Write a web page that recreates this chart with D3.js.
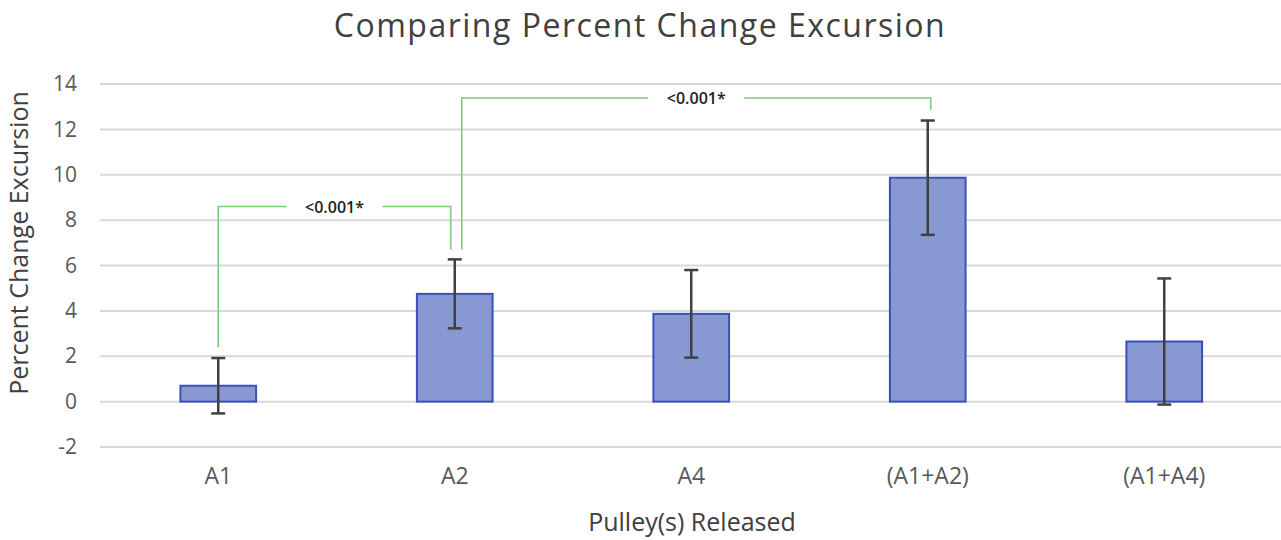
<!DOCTYPE html>
<html>
<head>
<meta charset="utf-8">
<script src="https://cdn.jsdelivr.net/npm/d3@7"></script>
<style>
  html, body { margin: 0; padding: 0; background: #fff; }
  svg { display: block; }
  text { font-family: "Open Sans", "Noto Sans", sans-serif; }
</style>
</head>
<body>
<svg id="chart" width="1281" height="540"></svg>
<script>
// ---- data ----
const categories = ["A1", "A2", "A4", "(A1+A2)", "(A1+A4)"];
const values = [0.7, 4.75, 3.87, 9.87, 2.65];
const errors = [1.22, 1.52, 1.93, 2.52, 2.78];
const yTicks = [-2, 0, 2, 4, 6, 8, 10, 12, 14];
// significance brackets
const brackets = [
  { from: 0, to: 1, level: 8.6, leftEnd: 2.4, rightEnd: 6.7, label: "<0.001*" },
  { from: 1, to: 3, level: 13.38, leftEnd: 6.7, rightEnd: 12.86, label: "<0.001*" }
];
const title = "Comparing Percent Change Excursion";
const yTitle = "Percent Change Excursion";
const xTitle = "Pulley(s) Released";

// ---- layout ----
const svg = d3.select("#chart");
const left = 100, right = 1282.5;
const x = d3.scaleBand().domain(categories).range([left, right]).paddingInner(0.68).paddingOuter(0.34);
const y = d3.scaleLinear().domain([-2, 14]).range([447, 84]);

// gridlines
svg.append("g")
  .selectAll("line").data(yTicks).join("line")
  .attr("x1", left).attr("x2", 1281)
  .attr("y1", d => y(d)).attr("y2", d => y(d))
  .attr("stroke", "#d9d9d9").attr("stroke-width", 2);

// y axis labels
const yAxis = d3.axisLeft(y).tickValues(yTicks).tickSize(0).tickPadding(0).tickFormat(d => String(d));
const gy = svg.append("g").attr("transform", `translate(77,0)`).call(yAxis);
gy.select(".domain").remove();
gy.selectAll("text").attr("font-size", 21).attr("fill", "#595959")
  .attr("font-family", "'Open Sans', sans-serif");

// x axis labels
const xAxis = d3.axisBottom(x).tickSize(0).tickPadding(0);
const gx = svg.append("g").attr("transform", `translate(0,468)`).call(xAxis);
gx.select(".domain").remove();
gx.selectAll("text").attr("font-size", 23).attr("fill", "#595959")
  .attr("font-family", "'Open Sans', sans-serif");

// bars
svg.append("g").selectAll("rect").data(values).join("rect")
  .attr("x", (d, i) => x(categories[i]))
  .attr("width", x.bandwidth())
  .attr("y", d => y(Math.max(0, d)))
  .attr("height", d => Math.abs(y(d) - y(0)))
  .attr("fill", "#8798d3")
  .attr("stroke", "#3d50b8")
  .attr("stroke-width", 2);

// error bars
const eg = svg.append("g").attr("stroke", "#404040").attr("stroke-width", 2.5);
values.forEach((v, i) => {
  const cx = x(categories[i]) + x.bandwidth() / 2;
  const yt = y(v + errors[i]), yb = y(v - errors[i]);
  eg.append("line").attr("x1", cx).attr("x2", cx).attr("y1", yt).attr("y2", yb);
  eg.append("line").attr("x1", cx - 7).attr("x2", cx + 7).attr("y1", yt).attr("y2", yt);
  eg.append("line").attr("x1", cx - 7).attr("x2", cx + 7).attr("y1", yb).attr("y2", yb);
});

// brackets
const bg = svg.append("g");
const legOffsets = [[0, -4], [7, 3]];
brackets.forEach((b, k) => {
  const x1 = x(categories[b.from]) + x.bandwidth() / 2 + legOffsets[k][0];
  const x2 = x(categories[b.to]) + x.bandwidth() / 2 + legOffsets[k][1];
  const yl = y(b.level);
  const mid = (x1 + x2) / 2;
  bg.append("text").attr("x", mid).attr("y", yl + 6)
    .attr("text-anchor", "middle").attr("font-size", 16).attr("font-weight", 600)
    .attr("fill", "#222").attr("font-family", "'Open Sans', sans-serif").text(b.label);
  const gap = 48;
  bg.append("path")
    .attr("d", `M${x1},${y(b.leftEnd)}V${yl}H${mid - gap}M${mid + gap},${yl}H${x2}V${y(b.rightEnd)}`)
    .attr("fill", "none").attr("stroke", "#7ccc7c").attr("stroke-width", 1.6);
});

// titles
svg.append("text").attr("x", 640).attr("y", 37).attr("text-anchor", "middle")
  .attr("font-size", 32).attr("letter-spacing", 1.5).attr("fill", "#404040").text(title);
svg.append("text").attr("transform", `translate(28,243) rotate(-90)`).attr("text-anchor", "middle")
  .attr("font-size", 25).attr("fill", "#404040").text(yTitle);
svg.append("text").attr("x", 692).attr("y", 531).attr("text-anchor", "middle")
  .attr("font-size", 25).attr("fill", "#404040").text(xTitle);
</script>
</body>
</html>
